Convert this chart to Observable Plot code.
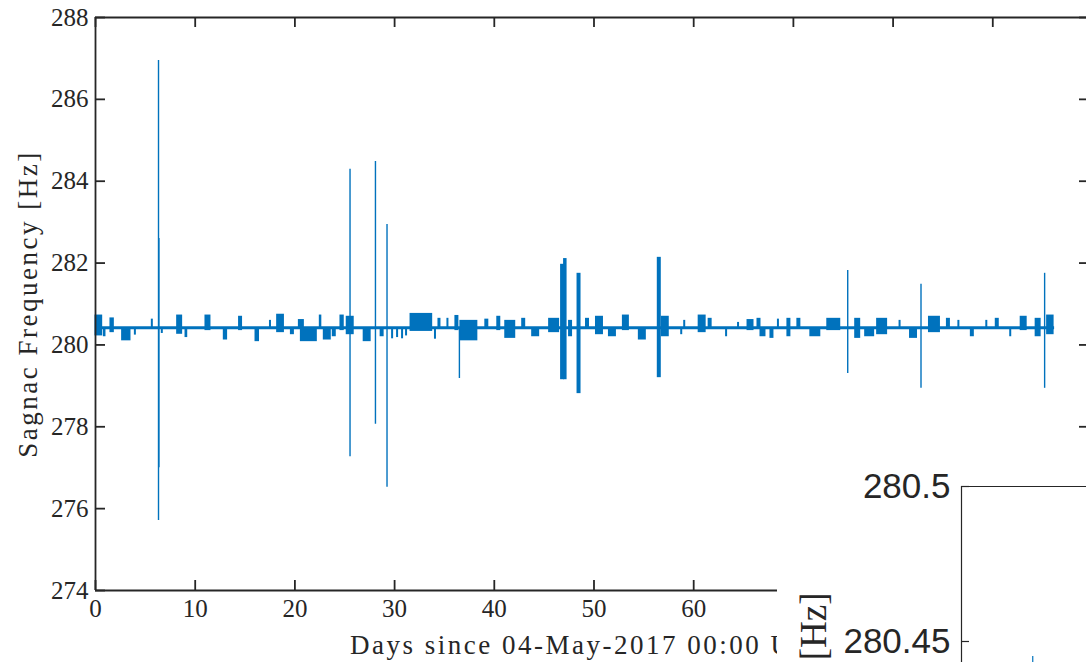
<!DOCTYPE html>
<html><head><meta charset="utf-8">
<script src="https://cdn.jsdelivr.net/npm/d3@7"></script>
<script src="https://cdn.jsdelivr.net/npm/@observablehq/plot@0.6"></script>
<style>
body{margin:0;background:#fff;}
#wrap{position:relative;width:1086px;height:662px;overflow:hidden;background:#fff;}
#inset{position:absolute;left:777px;top:455px;}
#wrap svg{display:block;}
</style></head><body><div id="wrap"><div id="main"></div><div id="inset"></div></div>
<script>
// ---------- data ----------
const xTicks = [0, 10, 20, 30, 40, 50, 60, 70, 80, 90];
const xTickLabels = ["0", "10", "20", "30", "40", "50", "60", "70", "80", "90"];
const yTicks = [274, 276, 278, 280, 282, 284, 286, 288];
const yTickLabels = ["274", "276", "278", "280", "282", "284", "286", "288"];
const xLabel = "Days since 04-May-2017 00:00 UTC";
const yLabel = "Sagnac Frequency [Hz]";

const traceStart = 0;
const traceEnd = 96.2;
const baselineHz = 280.42;

// dense noise bursts: start day, end day, low Hz, high Hz
const burstStart = [0.0, 0.84, 1.5, 2.67, 3.95, 5.65, 6.65, 8.19, 9.03, 11.03, 12.87, 14.4, 16.05, 17.5, 18.22, 19.6, 20.4, 20.6, 22.5, 22.9, 23.8, 24.57, 25.2, 26.9, 28.6, 29.75, 30.25, 30.75, 31.15, 31.6, 34.05, 34.4, 35.3, 36.1, 36.6, 39.1, 40.3, 41.1, 42.8, 43.8, 45.5, 46.7, 47.0, 47.5, 48.35, 49.2, 50.2, 51.5, 52.9, 54.5, 56.4, 56.8, 58.75, 59.05, 60.5, 61.5, 63.25, 64.45, 65.4, 66.4, 66.7, 67.7, 68.45, 69.4, 70.4, 71.7, 73.4, 76.2, 77.2, 78.4, 80.65, 81.7, 83.6, 85.4, 86.55, 87.8, 89.35, 90.3, 91.75, 92.8, 94.3, 95.45];
const burstEnd   = [0.67, 1.0, 1.84, 3.51, 4.05, 5.75, 6.75, 8.69, 9.2, 11.53, 13.2, 14.7, 16.4, 17.6, 18.9, 19.9, 20.9, 22.2, 22.65, 23.6, 24.1, 24.9, 25.9, 27.6, 28.9, 29.85, 30.35, 30.85, 31.25, 33.77, 34.15, 34.6, 35.4, 36.4, 38.3, 39.4, 40.6, 42.1, 43.1, 44.5, 46.5, 47.0, 47.25, 47.8, 48.65, 49.5, 50.9, 52.2, 53.5, 55.2, 56.7, 57.5, 58.85, 59.15, 61.2, 61.8, 63.35, 64.55, 66.0, 66.7, 67.2, 68.0, 68.55, 69.7, 70.7, 72.7, 74.7, 76.7, 78.1, 79.4, 80.75, 82.4, 84.7, 85.7, 86.65, 88.1, 89.45, 90.6, 91.85, 93.4, 94.8, 96.1];
const burstLow   = [280.22, 280.20, 280.30, 280.10, 280.24, 280.42, 280.28, 280.26, 280.18, 280.35, 280.12, 280.35, 280.08, 280.42, 280.30, 280.25, 280.42, 280.08, 280.42, 280.12, 280.20, 280.35, 280.25, 280.08, 280.20, 280.15, 280.18, 280.15, 280.22, 280.33, 280.14, 280.42, 280.42, 280.35, 280.10, 280.42, 280.35, 280.16, 280.42, 280.20, 280.30, 279.15, 279.15, 280.20, 278.81, 280.42, 280.25, 280.20, 280.35, 280.12, 279.20, 280.20, 280.25, 280.42, 280.30, 280.42, 280.20, 280.42, 280.35, 280.42, 280.20, 280.16, 280.42, 280.20, 280.42, 280.20, 280.35, 280.16, 280.20, 280.25, 280.42, 280.16, 280.30, 280.42, 280.42, 280.20, 280.42, 280.42, 280.20, 280.35, 280.20, 280.25];
const burstHigh  = [280.73, 280.42, 280.66, 280.42, 280.42, 280.63, 280.42, 280.73, 280.42, 280.73, 280.42, 280.70, 280.42, 280.60, 280.75, 280.42, 280.62, 280.42, 280.73, 280.42, 280.42, 280.73, 280.70, 280.42, 280.42, 280.42, 280.42, 280.42, 280.42, 280.77, 280.42, 280.65, 280.65, 280.72, 280.60, 280.63, 280.70, 280.60, 280.65, 280.42, 280.65, 281.97, 282.11, 280.60, 281.75, 280.65, 280.70, 280.42, 280.73, 280.42, 282.14, 280.70, 280.42, 280.60, 280.73, 280.65, 280.42, 280.55, 280.62, 280.65, 280.42, 280.42, 280.63, 280.65, 280.65, 280.42, 280.65, 280.65, 280.42, 280.65, 280.60, 280.42, 280.70, 280.65, 280.60, 280.42, 280.60, 280.65, 280.42, 280.70, 280.65, 280.73];

// isolated spikes: day, low Hz, high Hz
const spikeDay  = [6.32, 6.36, 25.53, 28.08, 29.24, 36.5, 75.45, 82.8, 95.2];
const spikeLow  = [275.71, 277.0, 277.27, 278.06, 276.52, 279.18, 279.30, 278.94, 278.94];
const spikeHigh = [286.95, 282.6, 284.29, 284.48, 282.94, 280.42, 281.82, 281.48, 281.75];

// overlapping inset (another panel, partly visible)
const insetTicks = [280.45, 280.5];
const insetTickLabels = ["280.45", "280.5"];
const insetYLabel = "Sagnac Frequency [Hz]";
const insetTraceX = [0.57];
const insetTraceLow = [280.40];
const insetTraceHigh = [280.4452];

// ---------- build ----------
const blue = "#0072BD", ink = "#262626";
const W = 1086, H = 662, mL = 95, mR = 0, mT = 17, mB = 72;
const plotW = W - mL - mR, plotH = H - mT - mB;
const serif = "Liberation Serif";
const sans = "Liberation Sans";

const trace = [{x1: traceStart, x2: traceEnd, y: baselineHz}];
const bursts = burstStart.map((s, i) => ({s, e: burstEnd[i], lo: burstLow[i], hi: burstHigh[i]}));
const spikes = spikeDay.map((d, i) => ({d, lo: spikeLow[i], hi: spikeHigh[i]}));

const main = Plot.plot({
  width: W, height: H,
  marginLeft: mL, marginRight: mR, marginTop: mT, marginBottom: mB,
  style: {fontFamily: serif, background: "white", color: ink},
  x: {domain: [0, 99.4], axis: null},
  y: {domain: [274, 288], axis: null},
  marks: [
    Plot.ruleY(trace, {x1: "x1", x2: "x2", y: "y", stroke: blue, strokeWidth: 3}),
    Plot.rect(bursts, {x1: "s", x2: "e", y1: "lo", y2: "hi", fill: blue, insetLeft: -0.5, insetRight: -0.5}),
    Plot.ruleX(spikes, {x: "d", y1: "lo", y2: "hi", stroke: blue, strokeWidth: 1.4}),
    // box lines
    Plot.ruleX([0], {stroke: ink, strokeWidth: 1.8}),
    Plot.ruleY([274, 288], {stroke: ink, strokeWidth: 1.8}),
    // inward ticks
    Plot.tickX(xTicks, {x: d => d, insetTop: plotH - 10, stroke: ink, strokeWidth: 1.8}),
    Plot.tickX(xTicks, {x: d => d, insetBottom: plotH - 10, stroke: ink, strokeWidth: 1.8}),
    Plot.tickY(yTicks, {y: d => d, insetRight: plotW - 10, stroke: ink, strokeWidth: 1.8}),
    Plot.tickY(yTicks, {y: d => d, insetLeft: plotW - 7, stroke: ink, strokeWidth: 1.8}),
    // tick labels
    Plot.axisX(xTicks, {anchor: "bottom", tickSize: 0, tickPadding: 9, fontSize: 25, label: null,
      fontFamily: serif, tickFormat: (d, i) => xTickLabels[i], fill: ink}),
    Plot.axisY(yTicks, {anchor: "left", tickSize: 0, tickPadding: 7, fontSize: 25, label: null,
      fontFamily: serif, tickFormat: (d, i) => yTickLabels[i], fill: ink}),
    // axis titles
    Plot.text([xLabel], {frameAnchor: "bottom", dy: 63, lineAnchor: "bottom", textAnchor: "middle",
      fontSize: 27, fontFamily: serif, fill: ink}),
    Plot.text([yLabel], {frameAnchor: "left", dx: -67, rotate: -90, textAnchor: "middle", lineAnchor: "middle",
      fontSize: 27, fontFamily: serif, fill: ink})
  ]
});
document.getElementById("main").appendChild(main);
d3.select(main).selectAll("text").filter(function() { return this.textContent === xLabel || this.textContent === yLabel; })
  .attr("letter-spacing", "2.5px");

// inset
const IW = 309, IH = 207;
const insetData = insetTraceX.map((x, i) => ({x, lo: insetTraceLow[i], hi: insetTraceHigh[i]}));
const inset = Plot.plot({
  width: IW, height: IH,
  marginLeft: 184, marginRight: 0, marginTop: 31, marginBottom: 0,
  style: {background: "white", fontFamily: sans, color: ink, overflow: "hidden"},
  x: {domain: [0, 1], axis: null},
  y: {domain: [280.45, 280.5], range: [186, 31], axis: null},
  marks: [
    Plot.ruleX(insetData, {x: "x", y1: "lo", y2: "hi", stroke: blue, strokeWidth: 1.2}),
    Plot.ruleY([280.5], {x1: 0, x2: 1, stroke: ink, strokeWidth: 1.2}),
    Plot.ruleX([0], {y1: 280.5, y2: 280.40, stroke: ink, strokeWidth: 1.2}),
    Plot.tickY(insetTicks, {y: d => d, insetRight: IW - 184 - 8, stroke: ink, strokeWidth: 1.2}),
    Plot.axisY(insetTicks, {anchor: "left", tickSize: 0, tickPadding: 11, fontSize: 35, label: null,
      fontFamily: sans, tickFormat: (d, i) => insetTickLabels[i], fill: ink}),
    Plot.text([insetYLabel], {frameAnchor: "top-left", dx: 48 - 184, dy: 137 - 31, rotate: -90,
      textAnchor: "end", lineAnchor: "bottom", fontSize: 37, fontFamily: serif, fill: ink})
  ]
});
document.getElementById("inset").appendChild(inset);
</script>
</body></html>
